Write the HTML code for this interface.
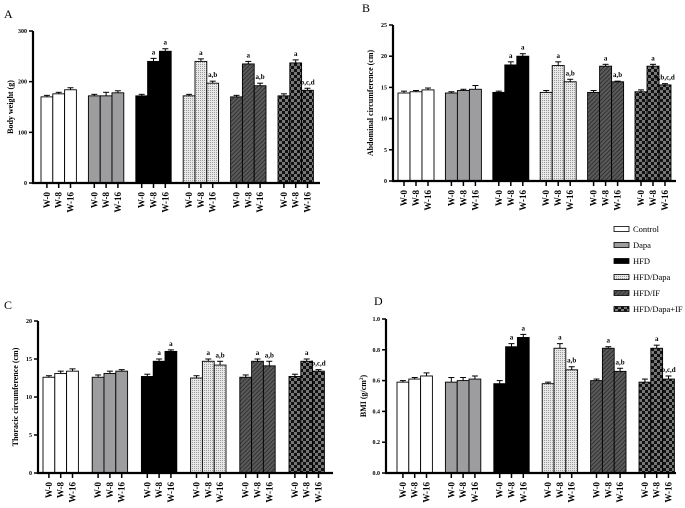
<!DOCTYPE html>
<html><head><meta charset="utf-8">
<style>
html,body{margin:0;padding:0;background:#fff;}
svg{display:block;font-family:"Liberation Serif",serif;}
</style></head>
<body>
<svg id="fig" width="685" height="508" viewBox="0 0 685 508" xmlns="http://www.w3.org/2000/svg">
<defs>
<pattern id="pDots" width="2" height="2" patternUnits="userSpaceOnUse"><rect width="2" height="2" fill="#e8e8e8"/><rect width="1" height="1" fill="#9a9a9a"/></pattern>
<pattern id="pHatch" width="3" height="3" patternUnits="userSpaceOnUse" patternTransform="rotate(45)"><rect width="3" height="3" fill="#5a5a5a"/><rect width="1" height="3" fill="#333"/></pattern>
<pattern id="pCheck" width="6" height="6" patternUnits="userSpaceOnUse"><rect width="6" height="6" fill="#111"/><rect width="3" height="3" fill="#777"/><rect x="3" y="3" width="3" height="3" fill="#777"/></pattern>
</defs>
</svg>
<script>
const groups = ["Control","Dapa","HFD","HFD/Dapa","HFD/IF","HFD/Dapa+IF"];
const weeks = ["W-0","W-8","W-16"];
const fills = ["#ffffff","#9d9d9f","#000000","url(#pDots)","url(#pHatch)","url(#pCheck)"];

const valsA = [[170,176,184],[172,172,178],[172,240,260],[172,240,197],[170,235,192],[172,237,183]];
const errA  = [[3,3,4],[3,7,4],[3,6,5],[3,5,4],[3,5,5],[4,6,4]];
const sigA  = [["","",""],["","",""],["","a","a"],["","a","a,b"],["","a","a,b"],["","a","b,c,d"]];
const ticksA = [0,100,200,300];

const valsB = [[14.1,14.3,14.6],[14.1,14.5,14.7],[14.2,18.6,20.0],[14.2,18.5,15.9],[14.2,18.4,15.9],[14.3,18.4,15.4]];
const errB  = [[0.3,0.2,0.3],[0.2,0.2,0.6],[0.2,0.5,0.4],[0.3,0.6,0.4],[0.3,0.3,0.1],[0.3,0.3,0.2]];
const sigB  = [["","",""],["","",""],["","a","a"],["","a","a,b"],["","a","a,b"],["","a","a,b,c,d"]];
const ticksB = [0,5,10,15,20,25];

const valsC = [[12.6,13.1,13.4],[12.6,13.1,13.4],[12.7,14.7,16.0],[12.5,14.7,14.2],[12.6,14.7,14.1],[12.7,14.7,13.4]];
const errC  = [[0.2,0.3,0.3],[0.3,0.3,0.2],[0.3,0.3,0.2],[0.3,0.3,0.5],[0.3,0.3,0.6],[0.3,0.3,0.2]];
const sigC  = [["","",""],["","",""],["","a","a"],["","a","a,b"],["","a","a,b"],["","a","b,c,d"]];
const ticksC = [0,5,10,15,20];

const valsD = [[0.59,0.61,0.63],[0.59,0.60,0.61],[0.58,0.82,0.88],[0.58,0.81,0.67],[0.60,0.81,0.66],[0.59,0.81,0.61]];
const errD  = [[0.01,0.01,0.02],[0.03,0.02,0.02],[0.02,0.02,0.02],[0.01,0.03,0.02],[0.01,0.01,0.02],[0.02,0.02,0.02]];
const sigD  = [["","",""],["","",""],["","a","a"],["","a","a,b"],["","a","a,b"],["","a","b,c,d"]];
const ticksD = ["0.0","0.2","0.4","0.6","0.8","1.0"];

const NS="http://www.w3.org/2000/svg";
const svg=document.getElementById('fig');
function mk(tag,attrs,parent,text){const e=document.createElementNS(NS,tag);for(const k in attrs)e.setAttribute(k,attrs[k]);if(text!==undefined)e.textContent=text;(parent||svg).appendChild(e);return e;}

function panel(cfg){
  const g=mk('g',{});
  
  
  const maxV=parseFloat(cfg.ticks[cfg.ticks.length-1]);
  const y=v=>cfg.y0-(v/maxV)*(cfg.y0-cfg.yTop);
  const bw=cfg.bw;
  const lab=mk('text',{x:cfg.lx,y:cfg.ly,'font-size':12},g,cfg.id);
  
  
  cfg.vals.forEach((arr,gi)=>{
    arr.forEach((v,wi)=>{
      const x=cfg.gx0+gi*cfg.gstep+wi*bw;
      const top=y(v);
      const e=cfg.err[gi][wi];
      const et=y(v+e);
      const cx=x+bw/2;
      const el=mk('line',{x1:cx,x2:cx,y1:top,y2:et,stroke:'#000','stroke-width':1},g);
      
      
      const cap=mk('line',{x1:cx-3,x2:cx+3,y1:et,y2:et,stroke:'#000','stroke-width':1},g);
      
      
      const r=mk('rect',{x:x,y:top,width:bw,height:cfg.y0-top,fill:fills[gi],stroke:'#000','stroke-width':0.9},g);
      
      
      const s=cfg.sig[gi][wi];
      if(s){const t=mk('text',{x:cx,y:et-4,'font-size':7,'font-weight':'bold','text-anchor':'middle'},g,s);
        
        }
      const tk=mk('line',{x1:cx,x2:cx,y1:cfg.y0,y2:cfg.y0+5,stroke:'#000','stroke-width':1.5},g);
      
      
      const tl=mk('text',{x:0,y:0,'font-size':9,'font-weight':'bold','text-anchor':'end',transform:`translate(${cx+3},${cfg.y0+9}) rotate(-90)`},g,weeks[wi]);
      
      
    });
  });
  const ya=mk('line',{x1:cfg.ax,x2:cfg.ax,y1:cfg.yTop,y2:cfg.y0+1,stroke:'#000','stroke-width':2.2},g);
  
  
  const xa=mk('line',{x1:cfg.ax-1,x2:cfg.xEnd,y1:cfg.y0,y2:cfg.y0,stroke:'#000','stroke-width':2.2},g);
  
  
  cfg.ticks.forEach(t=>{
    const yy=y(parseFloat(t));
    const tk=mk('line',{x1:cfg.ax-4,x2:cfg.ax,y1:yy,y2:yy,stroke:'#000','stroke-width':1.5},g);
    
    
    const tl=mk('text',{x:cfg.ax-6,y:yy+2,'font-size':6,'font-weight':'bold','text-anchor':'end'},g,String(t));
    
    
  });
  const yt=mk('text',{x:0,y:0,'font-size':8,'font-weight':'bold','text-anchor':'middle',transform:`translate(${cfg.ax-20},${(cfg.y0+cfg.yTop)/2}) rotate(-90)`},g);
  
  
  if(cfg.sup){yt.textContent=cfg.title;mk('tspan',{'font-size':5,dy:-3},yt,cfg.sup);mk('tspan',{dy:3},yt,')');}
  else yt.textContent=cfg.title;
}

panel({id:'A',lx:4,ly:18,ax:33,yTop:31,y0:183,xEnd:320,gx0:41,gstep:47.4,bw:11.8,vals:valsA,err:errA,sig:sigA,ticks:ticksA,title:'Body weight (g)'});
panel({id:'B',lx:362,ly:12,ax:393,yTop:25,y0:181,xEnd:676,gx0:398,gstep:47.4,bw:12,vals:valsB,err:errB,sig:sigB,ticks:ticksB,title:'Abdominal circumference (cm)'});
panel({id:'C',lx:4,ly:309,ax:38,yTop:321,y0:473,xEnd:333,gx0:43,gstep:49.2,bw:11.8,vals:valsC,err:errC,sig:sigC,ticks:ticksC,title:'Thoracic circumference (cm)'});
panel({id:'D',lx:374,ly:305,ax:386,yTop:319,y0:473,xEnd:676,gx0:397,gstep:48.4,bw:11.8,vals:valsD,err:errD,sig:sigD,ticks:ticksD,title:'BMI (g/cm',sup:'2'});

const lg=mk('g',{});


groups.forEach((name,i)=>{
  const yy=229+i*16;
  const r=mk('rect',{x:614,y:yy-2.5,width:15,height:5,fill:fills[i],stroke:'#000','stroke-width':0.8},lg);
  
  
  const t=mk('text',{x:633,y:yy+3,'font-size':8.5},lg,name);
  
  
});
</script>
</body></html>
